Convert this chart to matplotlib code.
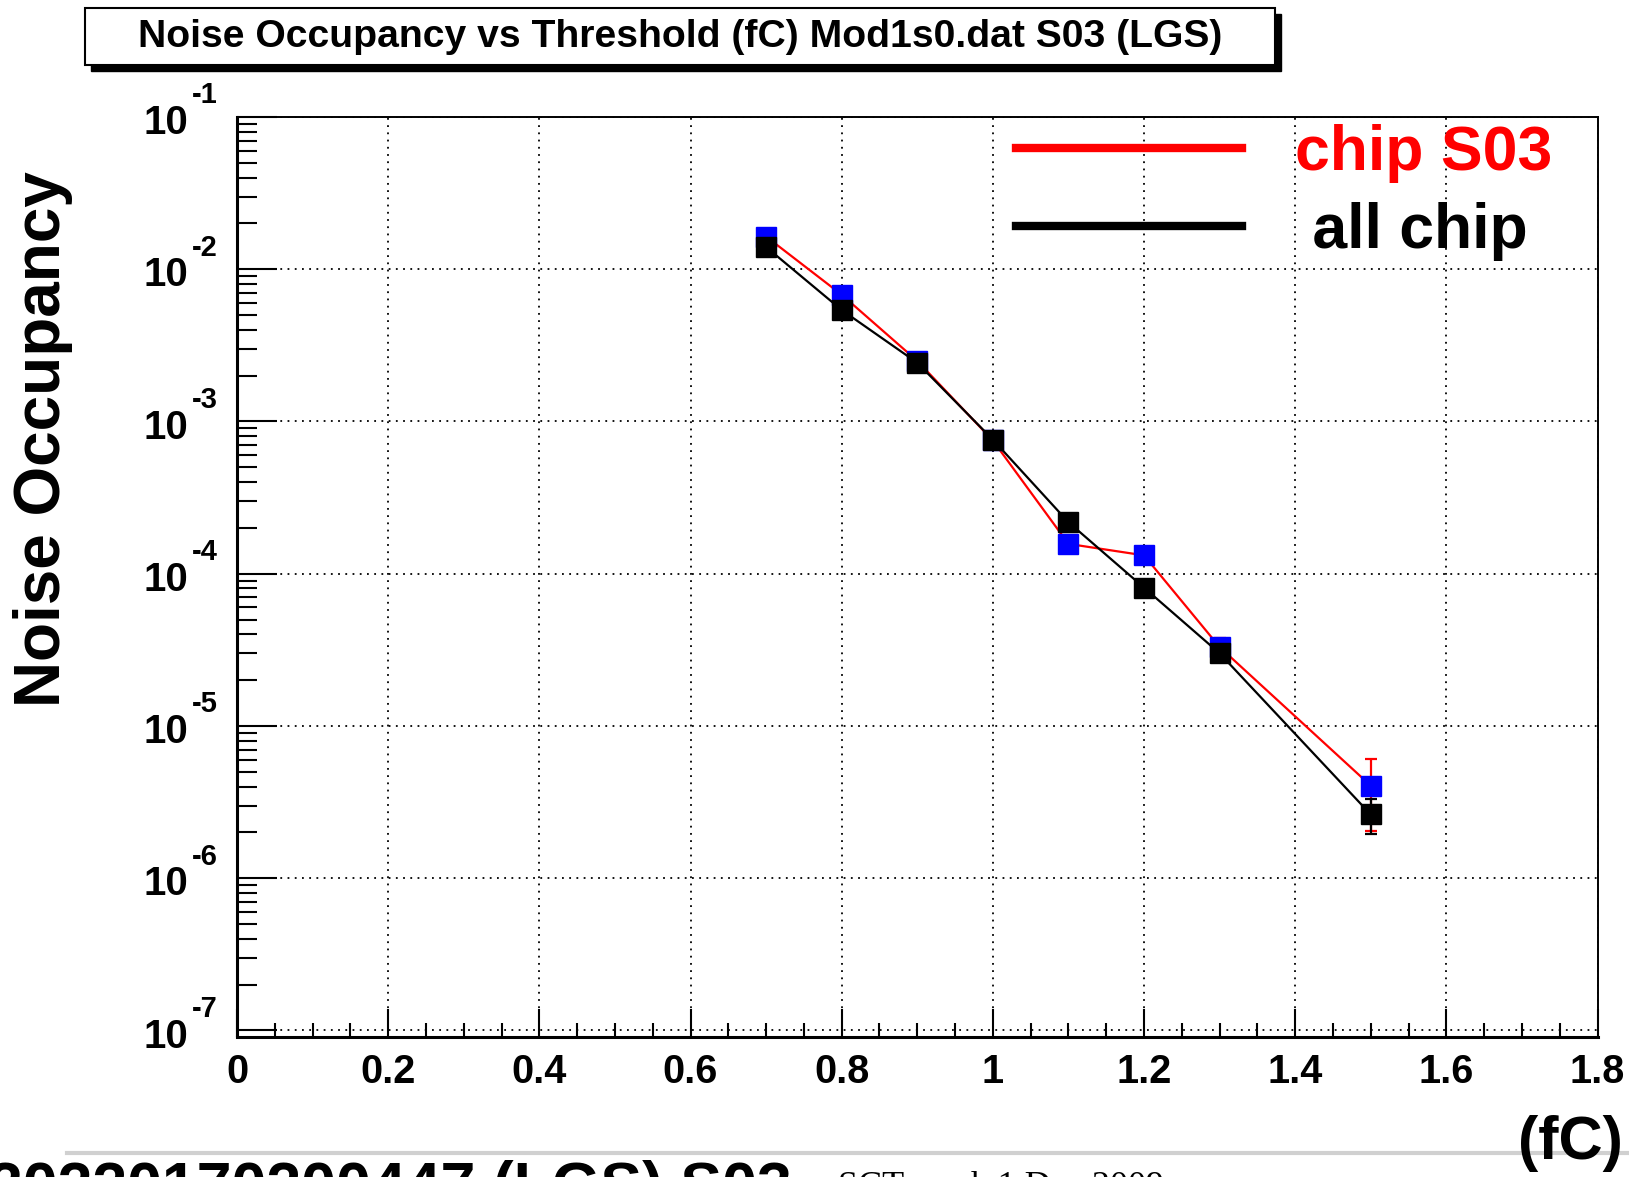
import numpy as np
import matplotlib
matplotlib.use('Agg')
import matplotlib.pyplot as plt
from matplotlib.ticker import FixedLocator, FixedFormatter, LogLocator, NullFormatter, MultipleLocator
from matplotlib.lines import Line2D
from matplotlib.patches import Rectangle
from matplotlib.transforms import blended_transform_factory, ScaledTranslation
from matplotlib import font_manager

# ---------------- data ----------------
threshold = [0.7, 0.8, 0.9, 1.0, 1.1, 1.2, 1.3, 1.5]
occ_chip = [1.64e-2, 6.8e-3, 2.5e-3, 7.5e-4, 1.57e-4, 1.32e-4, 3.3e-5, 4.05e-6]
err_chip = [4e-4, 2e-4, 1e-4, 4e-5, 1.5e-5, 1.4e-5, 5e-6, 2.0e-6]
occ_all = [1.40e-2, 5.4e-3, 2.43e-3, 7.6e-4, 2.18e-4, 8.1e-5, 3.0e-5, 2.62e-6]
err_all = [1.5e-4, 8e-5, 5e-5, 2.5e-5, 1.2e-5, 8e-6, 2.5e-6, 6.8e-7]
series_labels = ['chip S03', ' all chip']
x_ticks = [0.0, 0.2, 0.4, 0.6, 0.8, 1.0, 1.2, 1.4, 1.6, 1.8]
x_tick_labels = ['0', '0.2', '0.4', '0.6', '0.8', '1', '1.2', '1.4', '1.6', '1.8']
y_exponents = [-7, -6, -5, -4, -3, -2, -1]
title_text = 'Noise Occupancy vs Threshold (fC) Mod1s0.dat S03 (LGS)'
ylabel_text = 'Noise Occupancy'
xlabel_text = '(fC)'
footer_big = '20220170200447 (LGS) S03'
footer_small = 'SCT week 1 Dec 2009'

# ---------------- style ----------------
W, H = 1629, 1177
plt.rcParams['font.family'] = ['Liberation Sans', 'DejaVu Sans']

names = {f.name for f in font_manager.fontManager.ttflist}
narrow = 'Liberation Sans Narrow' if 'Liberation Sans Narrow' in names else 'Liberation Sans'

fig = plt.figure(figsize=(W / 100, H / 100), dpi=100)
fig.patch.set_facecolor('white')

def fx(px):
    return px / W

def fy(py):
    return 1 - py / H

ax = fig.add_axes([fx(237), fy(1036.5), fx(1597.5) - fx(237), fy(117) - fy(1036.5)])

ax.set_xlim(0, 1.8)
ax.set_yscale('log')
ax.set_ylim(10 ** -7.04, 1e-1)

# grid
ax.grid(True, which='major', color='black', linestyle=(0, (1, 3)), linewidth=1.3)

# series: chip S03 (red line/errors, blue markers), all chip (black)
ax.errorbar(threshold, occ_chip, yerr=err_chip, color='#ff0000', lw=1.6,
            marker='s', ms=15, mfc='#0000ff', mec='#0000ff',
            ecolor='#ff0000', elinewidth=1.6, capsize=4, capthick=1.6, zorder=3)
ax.errorbar(threshold, occ_all, yerr=err_all, color='black', lw=1.6,
            marker='s', ms=15, mfc='black', mec='black',
            ecolor='black', elinewidth=1.6, capsize=4, capthick=1.6, zorder=4)

# ticks
ax.xaxis.set_major_locator(FixedLocator(x_ticks))
ax.xaxis.set_major_formatter(FixedFormatter(x_tick_labels))
ax.xaxis.set_minor_locator(MultipleLocator(0.05))
ax.yaxis.set_major_locator(FixedLocator([10.0 ** e for e in y_exponents]))
ax.yaxis.set_major_formatter(NullFormatter())
ax.yaxis.set_minor_locator(LogLocator(base=10, subs=np.arange(2, 10), numticks=20))
ax.yaxis.set_minor_formatter(NullFormatter())

ax.tick_params(axis='x', which='major', direction='in', length=20, width=1.5,
               labelsize=28.5, pad=12, top=False)
ax.tick_params(axis='x', which='minor', direction='in', length=10, width=1.5, top=False)
ax.tick_params(axis='y', which='major', direction='in', length=29, width=1.5, right=False)
ax.tick_params(axis='y', which='minor', direction='in', length=14.5, width=1.5, right=False)
for lab in ax.get_xticklabels():
    lab.set_fontweight('bold')

# ROOT-style y tick labels: "10" with small raised exponent
blend = blended_transform_factory(ax.transAxes, ax.transData)
for e in y_exponents:
    tr_base = blend + ScaledTranslation(-0.49, -0.172, fig.dpi_scale_trans)
    ax.text(0, 10.0 ** e, '10', transform=tr_base, ha='right', va='baseline',
            fontsize=29, fontweight='bold', clip_on=False)
    tr_exp = blend + ScaledTranslation(-0.455, 0.135, fig.dpi_scale_trans)
    ax.text(0, 10.0 ** e, '%d' % e, transform=tr_exp, ha='left', va='baseline',
            fontsize=21, fontweight='bold', clip_on=False)

for s in ['left', 'bottom']:
    ax.spines[s].set_linewidth(2.2)
for s in ['top', 'right']:
    ax.spines[s].set_linewidth(1.4)

# legend
handles = [Line2D([], [], color='#ff0000', lw=6),
           Line2D([], [], color='black', lw=6)]
leg = ax.legend(handles, series_labels, loc='upper left',
                bbox_to_anchor=(fx(1016), fy(124)), bbox_transform=fig.transFigure,
                frameon=False, borderpad=0, borderaxespad=0,
                handlelength=3.62, handletextpad=0.85, labelspacing=0.30,
                prop={'size': 45, 'weight': 'bold'})
for t, c in zip(leg.get_texts(), ['#ff0000', 'black']):
    t.set_color(c)

# y label
fig.text(fx(43), fy(439), ylabel_text, rotation=90, ha='center', va='center',
         fontsize=46, fontweight='bold')

# x label
fig.text(fx(1623), fy(1143), xlabel_text, ha='right', va='center',
         fontsize=44, fontweight='bold')

# title box with shadow
fig.patches.append(Rectangle((fx(91), fy(71)), fx(1281) - fx(91), fy(14) - fy(71),
                             transform=fig.transFigure, facecolor='black',
                             edgecolor='black', zorder=1))
fig.patches.append(Rectangle((fx(85), fy(65)), fx(1275) - fx(85), fy(8) - fy(65),
                             transform=fig.transFigure, facecolor='white',
                             edgecolor='black', lw=1.5, zorder=2))
ttl = fig.text(fx(680), fy(37), title_text, ha='center', va='center',
               fontsize=29, fontweight='bold', family=[narrow, 'DejaVu Sans'], zorder=3)
fig.canvas.draw()
bb = ttl.get_window_extent()
target = 1084.0
ttl.set_fontsize(29 * target / bb.width if narrow == 'Liberation Sans' else 29 * min(1.1, max(0.9, target / bb.width)))

# footer
fig.lines.append(Line2D([fx(67), fx(1629)], [fy(1153), fy(1153)], transform=fig.transFigure,
                        color='#d0d0d0', lw=3))
fig.text(fx(-12), fy(1206), footer_big, ha='left', va='baseline', fontsize=45,
         fontweight='bold')
fig.text(fx(838), fy(1196), footer_small, ha='left', va='baseline', fontsize=26,
         family=['Liberation Serif', 'DejaVu Serif'])

fig.savefig('out.png', dpi=100)
